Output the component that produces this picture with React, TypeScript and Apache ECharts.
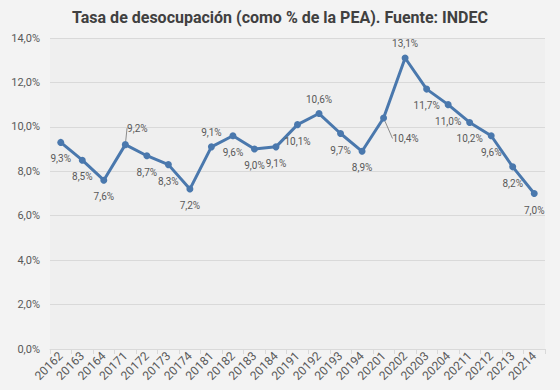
import React, { useEffect, useRef } from "react";
import * as echarts from "echarts";

const categories = [
  "20162", "20163", "20164", "20171", "20172", "20173", "20174",
  "20181", "20182", "20183", "20184", "20191", "20192", "20193", "20194",
  "20201", "20202", "20203", "20204", "20211", "20212", "20213", "20214",
];

const values = [
  9.3, 8.5, 7.6, 9.2, 8.7, 8.3, 7.2, 9.1, 9.6, 9.0, 9.1, 10.1, 10.6, 9.7, 8.9,
  10.4, 13.1, 11.7, 11.0, 10.2, 9.6, 8.2, 7.0,
];

const yTicks = [0, 2, 4, 6, 8, 10, 12, 14];

// label placement: "t" = above, "b" = below, "tr" = above-right with leader, "br" = below-right with leader
const labelPlace = [
  "b", "b", "b", "tr", "b", "b", "b", "t", "b", "b", "b", "b", "t", "b", "b",
  "br", "t", "b", "b", "b", "b", "b", "b",
];

const fmt = (v: number) => v.toFixed(1).replace(".", ",") + "%";

export default function App() {
  const ref = useRef<HTMLDivElement>(null);
  useEffect(() => {
    if (!ref.current) return;
    const chart = echarts.init(ref.current, undefined, { renderer: "svg" });
    const data = values.map((v, i) => {
      const p = labelPlace[i];
      const item: any = { value: v };
      if (p === "t") {
        item.label = { position: "top", distance: 6 };
      } else if (p === "b") {
        item.label = { position: "bottom", distance: 8 };
      } else if (p === "tr") {
        item.label = { position: "top", distance: 6 };
        item.labelLine = { show: true };
      } else {
        item.label = { position: "bottom", distance: 8 };
        item.labelLine = { show: true };
      }
      return item;
    });
    chart.setOption({
      animation: false,
      backgroundColor: "#f3f3f3",
      title: {
        text: "Tasa de desocupación (como % de la PEA). Fuente: INDEC",
        left: "center",
        top: 4,
        textStyle: {
          fontFamily: "Roboto",
          fontSize: 16,
          fontWeight: "bold",
          color: "#404040",
        },
      },
      grid: {
        left: 50,
        right: 15,
        top: 38,
        bottom: 41,
        show: true,
        backgroundColor: "#efefef",
        borderWidth: 0,
      },
      xAxis: {
        type: "category",
        data: categories,
        boundaryGap: true,
        axisLine: { lineStyle: { color: "#d9d9d9", width: 1 } },
        axisTick: { show: true, alignWithLabel: false, length: 5, lineStyle: { color: "#d9d9d9" } },
        axisLabel: {
          rotate: 45,
          interval: 0,
          fontFamily: "Roboto",
          fontSize: 12,
          color: "#595959",
          margin: 5,
        },
      },
      yAxis: {
        type: "value",
        min: yTicks[0],
        max: yTicks[yTicks.length - 1],
        interval: 2,
        axisLine: { show: false },
        axisTick: { show: false },
        splitLine: { lineStyle: { color: "#d9d9d9", width: 1 } },
        axisLabel: {
          formatter: (v: number) => fmt(v),
          fontFamily: "Roboto",
          fontSize: 11,
          color: "#595959",
          margin: 10,
        },
      },
      series: [
        {
          type: "line",
          data,
          symbol: "circle",
          symbolSize: 7,
          lineStyle: { color: "#4a78ad", width: 3 },
          itemStyle: { color: "#4a78ad" },
          label: {
            show: true,
            formatter: (p: any) => fmt(p.value),
            fontFamily: "Roboto",
            fontSize: 10,
            color: "#595959",
          },
          labelLine: { lineStyle: { color: "#8c8c8c", width: 1 } },
          labelLayout: (params: any) => {
            const p = labelPlace[params.dataIndex];
            if (p === "tr") return { dx: 12, dy: -2 };
            if (p === "br") return { dx: 22, dy: 4 };
            return {};
          },
        },
      ],
    });
    return () => chart.dispose();
  }, []);
  return (
    <div
      ref={ref}
      style={{ position: "fixed", left: 0, top: 0, width: 560, height: 390 }}
    />
  );
}
